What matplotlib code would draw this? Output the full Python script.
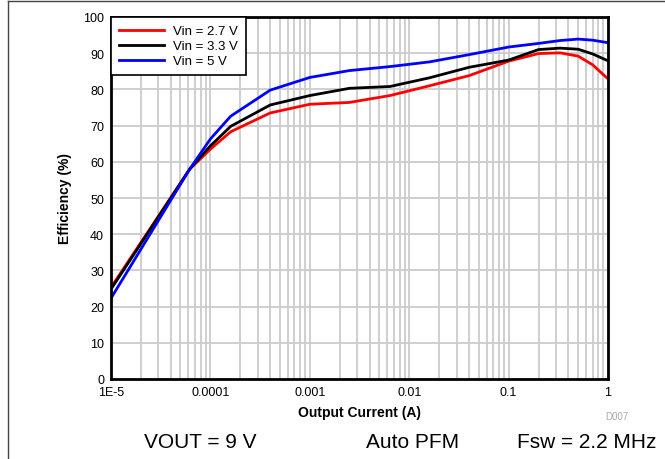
import matplotlib
matplotlib.use("Agg")
import matplotlib.pyplot as plt
from matplotlib.lines import Line2D
from matplotlib.ticker import FixedLocator, LogLocator, NullFormatter

plt.rcParams['font.family'] = ['Liberation Sans', 'DejaVu Sans']

# output current (A)
current = [1e-5, 6.2e-5, 1e-4, 1.6e-4, 4e-4, 1e-3, 2.5e-3, 6.4e-3,
           0.016, 0.04, 0.1, 0.2, 0.33, 0.5, 0.7, 1.0]

# efficiency (%) per input voltage
eff_2v7 = [25.3, 58.0, 63.5, 68.3, 73.5, 75.9, 76.4, 78.3,
           81.0, 83.8, 87.8, 89.9, 90.1, 89.2, 86.8, 82.9]
eff_3v3 = [24.8, 58.0, 64.4, 69.8, 75.7, 78.3, 80.3, 80.8,
           83.2, 86.1, 88.1, 91.0, 91.4, 91.1, 89.8, 87.9]
eff_5v = [22.3, 58.0, 66.3, 72.6, 79.8, 83.3, 85.2, 86.3,
          87.6, 89.6, 91.7, 92.7, 93.5, 93.9, 93.6, 92.9]

x_ticks = [1e-5, 1e-4, 1e-3, 1e-2, 1e-1, 1]
x_tick_labels = ["1E-5", "0.0001", "0.001", "0.01", "0.1", "1"]
y_ticks = list(range(0, 101, 10))

fig = plt.figure(figsize=(6.65, 4.6), dpi=100)
ax = fig.add_axes([111 / 665, 80 / 460, 497 / 665, 362 / 460])

ax.plot(current, eff_2v7, color="#ff0000", lw=2, label="Vin = 2.7 V", zorder=3)
ax.plot(current, eff_3v3, color="#000000", lw=2, label="Vin = 3.3 V", zorder=3)
ax.plot(current, eff_5v, color="#0000ff", lw=2, label="Vin = 5 V", zorder=4)

ax.set_xscale("log")
ax.set_xlim(1e-5, 1)
ax.set_ylim(0, 100)
ax.xaxis.set_major_locator(FixedLocator(x_ticks))
ax.set_xticklabels(x_tick_labels)
ax.xaxis.set_minor_locator(LogLocator(base=10, subs=range(2, 10), numticks=20))
ax.xaxis.set_minor_formatter(NullFormatter())
ax.set_yticks(y_ticks)

ax.grid(True, which="major", color="#cccccc", lw=1.3)
ax.grid(True, which="minor", axis="x", color="#cccccc", lw=1.3)
ax.set_axisbelow(True)
ax.tick_params(which="both", length=0, labelsize=9, pad=5)

for s in ax.spines.values():
    s.set_linewidth(2)
    s.set_zorder(5)

ax.set_xlabel("Output Current (A)", fontsize=10, fontweight="bold", labelpad=5)
ax.set_ylabel("Efficiency (%)", fontsize=10, fontweight="bold", labelpad=8)

leg = ax.legend(loc="upper left", fontsize=9.5, handlelength=3.4, borderaxespad=0,
                fancybox=False, framealpha=1, edgecolor="black",
                borderpad=0.6, labelspacing=0.22, handletextpad=0.7)
leg.get_frame().set_linewidth(1.2)

fig.text(617 / 665, 1 - 417 / 460, "D007", fontsize=7, color="#aaaaaa",
         ha="center", va="center")

fig.text(200 / 665, 1 - 443 / 460, "VOUT = 9 V", fontsize=15, ha="center", va="center")
fig.text(413 / 665, 1 - 443 / 460, "Auto PFM", fontsize=15, ha="center", va="center")
fig.text(587 / 665, 1 - 443 / 460, "Fsw = 2.2 MHz", fontsize=15, ha="center", va="center")

# outer frame (top and left edges visible)
fig.add_artist(Line2D([8 / 665, 1], [1 - 2 / 460, 1 - 2 / 460], color="#444444", lw=1))
fig.add_artist(Line2D([8 / 665, 8 / 665], [0, 1 - 2 / 460], color="#444444", lw=1))

fig.savefig("out.png", dpi=100)
